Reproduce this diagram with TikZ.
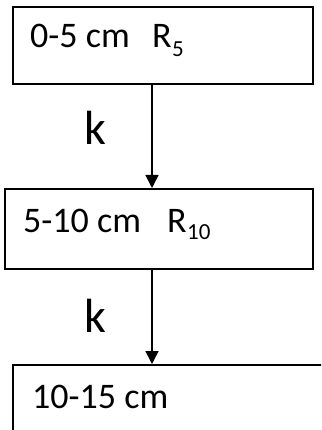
\documentclass[tikz,border=0pt]{standalone}
\usepackage{fontspec}
\setmainfont{Carlito}
\usetikzlibrary{arrows.meta}
\begin{document}
\begin{tikzpicture}[x=1pt,y=-1pt,
  box/.style={draw=black, line width=1.6pt, rectangle, anchor=north west, inner sep=0pt},
  lab/.style={anchor=base west, inner sep=0pt, font=\fontsize{36}{42}\selectfont},
  klab/.style={anchor=base west, inner sep=0pt, font=\fontsize{48}{54}\selectfont},
  sub/.style={anchor=base west, inner sep=0pt, font=\fontsize{23}{27}\selectfont},
  arr/.style={line width=1.6pt, -{Triangle[length=13pt,width=13pt]}}]
\useasboundingbox (0,0) rectangle (321,430);
\clip (0,0) rectangle (321,430);
\fill[white] (0,0) rectangle (321,430);
% boxes
\node[box, minimum width=300pt, minimum height=77pt] (b1) at (12,6) {};
\node[box, minimum width=308pt, minimum height=80pt] (b2) at (4,188) {};
\node[box, minimum width=330pt, minimum height=90pt] (b3) at (12,364) {};
% texts
\node[lab] (t1) at (30,48) {0-5 cm};
\node[lab] (r1) at (152,48) {R};
\node[sub] (s1) at (r1.base east) [yshift=-9pt] {5};
\node[lab] (t2) at (23,232) {5-10 cm};
\node[lab] (r2) at (167,232) {R};
\node[sub] (s2) at (r2.base east) [yshift=-7pt] {10};
\node[lab] (t3) at (32,408) {10-15 cm};
\node[klab] (k1) at (84,145) {k};
\node[klab] (k2) at (84,332) {k};
% arrows
\draw[arr] ([xshift=140pt]b1.south west) -- ([xshift=148pt]b2.north west);
\draw[arr] ([xshift=148pt]b2.south west) -- ([xshift=140pt]b3.north west);
\end{tikzpicture}
\end{document}
